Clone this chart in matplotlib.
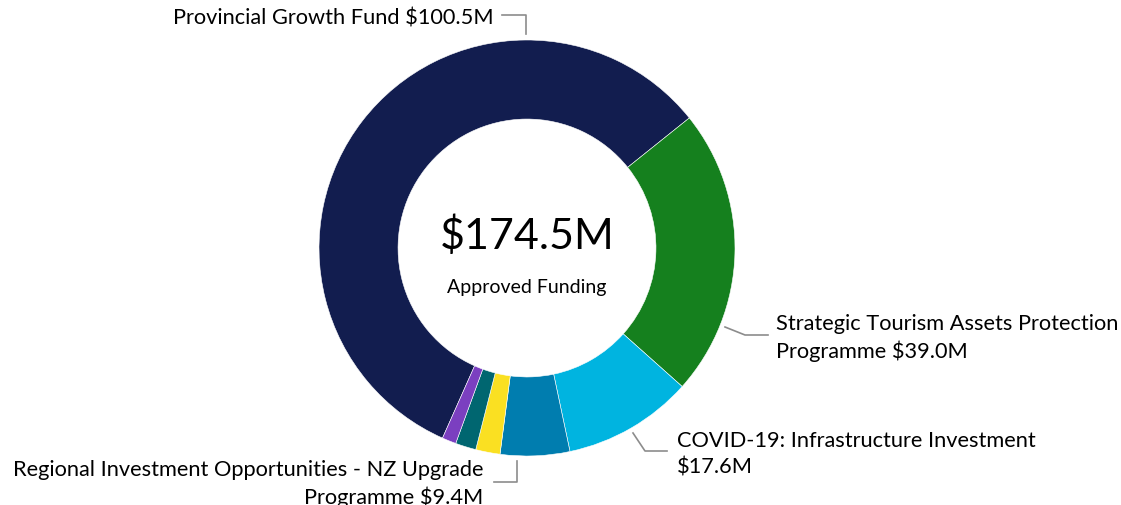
import matplotlib
matplotlib.use('Agg')
import matplotlib.pyplot as plt
import numpy as np

plt.rcParams['font.family'] = ['Lato', 'DejaVu Sans']

# funding by programme ($M), clockwise from the Provincial Growth Fund
programmes = ['Provincial Growth Fund', 'Strategic Tourism Assets Protection Programme',
              'COVID-19: Infrastructure Investment',
              'Regional Investment Opportunities - NZ Upgrade Programme',
              'Other A', 'Other B', 'Other C']
amounts = [100.5, 39.0, 17.6, 9.4, 3.3, 2.8, 1.9]
colors = ['#121d4f', '#15801e', '#00b4e0', '#007daf', '#fae022', '#006670', '#7b3fc0']
total_label = '$174.5M'
center_sub = 'Approved Funding'

W, H = 1121, 506
fig = plt.figure(figsize=(W / 100, H / 100), dpi=100)
ax = fig.add_axes([0, 0, 1, 1])

cx, cy = 527, H - 249
R = 208
start = 38.7 + 360 * amounts[0] / sum(amounts)
wedges, _ = ax.pie(amounts, colors=colors, radius=R, center=(cx, cy), startangle=start,
                   counterclock=False, wedgeprops=dict(width=R * 0.38, edgecolor='white', linewidth=0.4))

ax.set_xlim(0, W)
ax.set_ylim(0, H)
ax.set_aspect('equal')
ax.axis('off')

ax.text(cx, H - 236, total_label, ha='center', va='center', fontsize=31)
ax.text(cx, H - 287, center_sub, ha='center', va='center', fontsize=14)

line_kw = dict(color='#8c8c8c', lw=1.2)
fs = 15.7
ls = 1.38

def yy(v):
    return H - v

# Provincial Growth Fund
ax.plot([502, 526, 526], [yy(16), yy(16), yy(35)], **line_kw)
ax.text(494, yy(18), 'Provincial Growth Fund $%.1fM' % amounts[0], ha='right', va='center', fontsize=fs)

# STAPP
ax.plot([725, 745, 768], [yy(328), yy(336), yy(336)], **line_kw)
ax.text(776, yy(338), 'Strategic Tourism Assets Protection\nProgramme $%.1fM' % amounts[1],
        ha='left', va='center', fontsize=fs, linespacing=ls)

# COVID-19
ax.plot([633, 645, 667], [yy(434), yy(452), yy(452)], **line_kw)
ax.text(677, yy(454), 'COVID-19: Infrastructure Investment\n$%.1fM' % amounts[2],
        ha='left', va='center', fontsize=fs, linespacing=ls)

# Regional Investment Opportunities
ax.plot([517, 517, 494], [yy(462), yy(483), yy(483)], **line_kw)
ax.text(483, yy(484), 'Regional Investment Opportunities - NZ Upgrade\nProgramme $%.1fM' % amounts[3],
        ha='right', va='center', fontsize=fs, linespacing=ls, multialignment='right')

fig.savefig('out.png', dpi=100)
